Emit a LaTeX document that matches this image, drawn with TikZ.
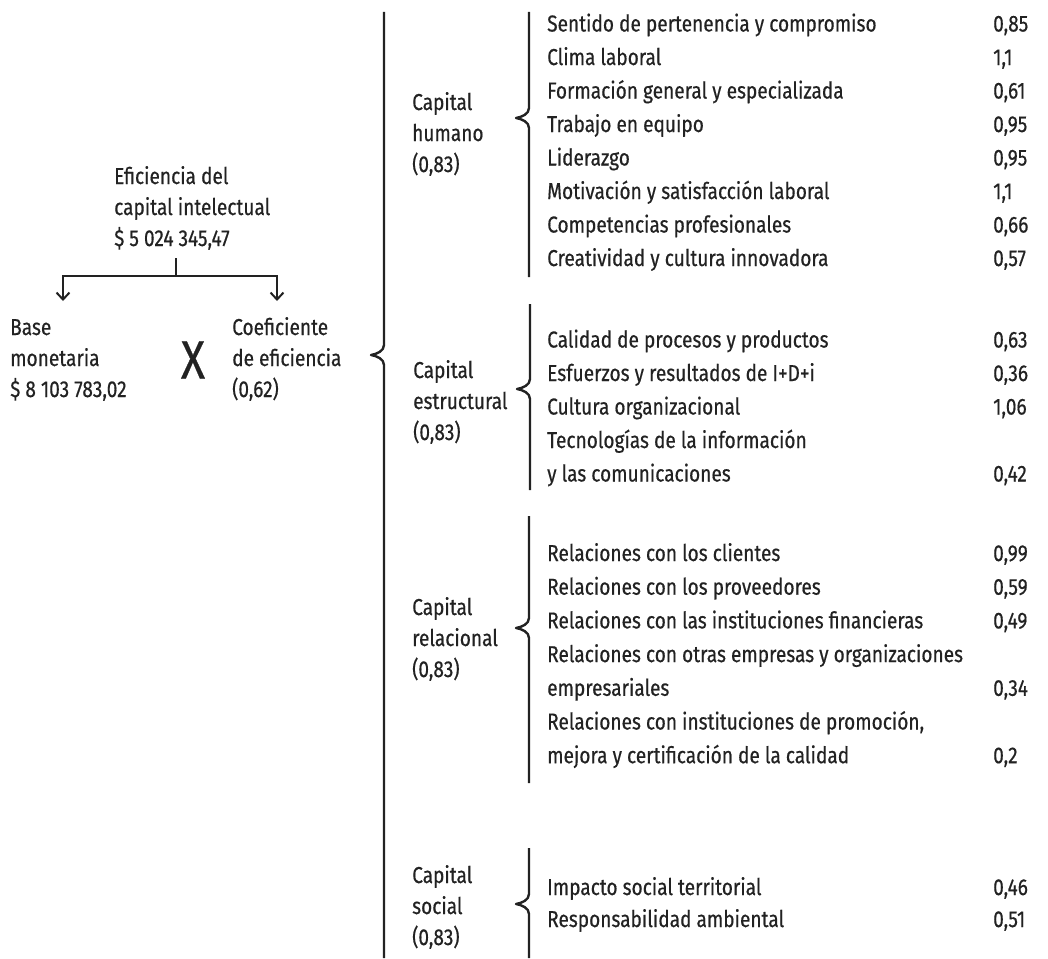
\documentclass[tikz,border=0pt]{standalone}
\usepackage{fontspec}
\setmainfont[FakeStretch=0.83,FakeBold=0.5]{Fira Sans}
\usetikzlibrary{arrows.meta}
\definecolor{ink}{HTML}{222222}
\newcommand\dgfont{\fontsize{23}{31}\selectfont}
\newcommand\notchbrace[4]{%
  \draw[brk] (#1,#2) -- (#1,#3-10) .. controls (#1,#3-4) and (#1-7,#3-1) .. (#1-13,#3)
    .. controls (#1-7,#3+1) and (#1,#3+4) .. (#1,#3+10) -- (#1,#4);}
\begin{document}
\begin{tikzpicture}[x=1pt,y=-1pt,
  txt/.style={anchor=base west, inner sep=0pt, font=\dgfont, text=ink},
  lbl/.style={txt, align=left},
  brk/.style={draw=ink, line width=2.4pt, line join=round},
  arr/.style={draw=ink, line width=2pt, -{Straight Barb[length=7pt,width=13pt,line width=2pt]}}]
\useasboundingbox (0,0) rectangle (1048,958);
% left part (anchor = baseline of last line)
\node[lbl] (efi) at (114,246) {Eficiencia del\\capital intelectual\\\$ 5 024 345,47};
\node[lbl] (base) at (10,397) {Base\\monetaria\\\$ 8 103 783,02};
\node[lbl] (coef) at (232,397) {Coeficiente\\de eficiencia\\(0,62)};
\node[inner sep=0pt, font=\fontsize{54}{54}\selectfont, text=ink] (times) at (193,360) {X};
\coordinate (stub) at (176,258);
\coordinate (split) at (176,276);
\coordinate (lt) at (63,301);
\coordinate (rt) at (277,301);
\draw[draw=ink, line width=2pt] (stub) -- (split);
\draw[arr] (split) -| (lt);
\draw[arr] (split) -| (rt);
% main bracket
\notchbrace{384}{12}{355}{958}
% group labels
\node[lbl] (hum) at (412,172) {Capital\\humano\\(0,83)};
\node[lbl] (est) at (413,440) {Capital\\estructural\\(0,83)};
\node[lbl] (rel) at (412,677) {Capital\\relacional\\(0,83)};
\node[lbl] (soc) at (412,945) {Capital\\social\\(0,83)};
% group brackets
\notchbrace{529}{12}{118}{277}
\notchbrace{530}{304}{389}{490}
\notchbrace{529}{516}{628}{783}
\notchbrace{529}{848}{904}{958}
% capital humano items
\node[txt] (h1) at (547,31.5) {Sentido de pertenencia y compromiso};
\node[txt] (h2) at (547,65) {Clima laboral};
\node[txt] (h3) at (547,98.5) {Formación general y especializada};
\node[txt] (h4) at (547,132) {Trabajo en equipo};
\node[txt] (h5) at (547,165.5) {Liderazgo};
\node[txt] (h6) at (547,199) {Motivación y satisfacción laboral};
\node[txt] (h7) at (547,232.5) {Competencias profesionales};
\node[txt] (h8) at (547,266) {Creatividad y cultura innovadora};
\node[txt] (hv1) at (993,31.5) {0,85};
\node[txt] (hv2) at (993,65) {1,1};
\node[txt] (hv3) at (993,98.5) {0,61};
\node[txt] (hv4) at (993,132) {0,95};
\node[txt] (hv5) at (993,165.5) {0,95};
\node[txt] (hv6) at (993,199) {1,1};
\node[txt] (hv7) at (993,232.5) {0,66};
\node[txt] (hv8) at (993,266) {0,57};
% capital estructural items
\node[txt] (e1) at (547,347.5) {Calidad de procesos y productos};
\node[txt] (e2) at (547,381) {Esfuerzos y resultados de I+D+i};
\node[txt] (e3) at (547,414.5) {Cultura organizacional};
\node[txt] (e4) at (547,448) {Tecnologías de la información};
\node[txt] (e5) at (547,481.5) {y las comunicaciones};
\node[txt] (ev1) at (993,347.5) {0,63};
\node[txt] (ev2) at (993,381) {0,36};
\node[txt] (ev3) at (993,414.5) {1,06};
\node[txt] (ev5) at (993,481.5) {0,42};
% capital relacional items
\node[txt] (r1) at (547,561) {Relaciones con los clientes};
\node[txt] (r2) at (547,594.7) {Relaciones con los proveedores};
\node[txt] (r3) at (547,628.4) {Relaciones con las instituciones financieras};
\node[txt] (r4) at (547,662.1) {Relaciones con otras empresas y organizaciones};
\node[txt] (r5) at (547,695.8) {empresariales};
\node[txt] (r6) at (547,729.5) {Relaciones con instituciones de promoción,};
\node[txt] (r7) at (547,763.2) {mejora y certificación de la calidad};
\node[txt] (rv1) at (993,561) {0,99};
\node[txt] (rv2) at (993,594.7) {0,59};
\node[txt] (rv3) at (993,628.4) {0,49};
\node[txt] (rv5) at (993,695.8) {0,34};
\node[txt] (rv7) at (993,763.2) {0,2};
% capital social items
\node[txt] (s1) at (547,895) {Impacto social territorial};
\node[txt] (s2) at (547,927) {Responsabilidad ambiental};
\node[txt] (sv1) at (993,895) {0,46};
\node[txt] (sv2) at (993,927) {0,51};
\end{tikzpicture}
\end{document}
